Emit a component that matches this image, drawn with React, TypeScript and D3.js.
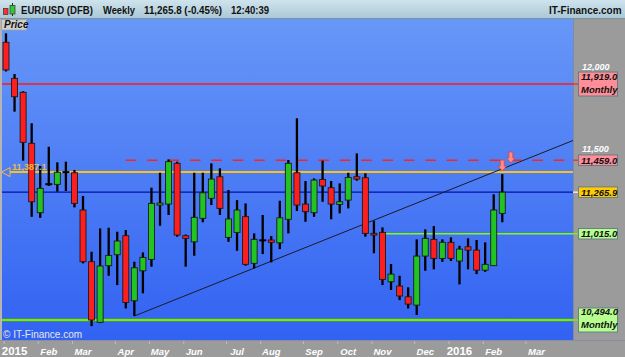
import React from "react";
import * as d3 from "d3";

const WEEKS = [
  "2014-12-29","2015-01-05","2015-01-12","2015-01-19","2015-01-26","2015-02-02","2015-02-09","2015-02-16","2015-02-23",
  "2015-03-02","2015-03-09","2015-03-16","2015-03-23","2015-03-30","2015-04-06","2015-04-13","2015-04-20","2015-04-27",
  "2015-05-04","2015-05-11","2015-05-18","2015-05-25","2015-06-01","2015-06-08","2015-06-15","2015-06-22","2015-06-29",
  "2015-07-06","2015-07-13","2015-07-20","2015-07-27","2015-08-03","2015-08-10","2015-08-17","2015-08-24","2015-08-31",
  "2015-09-07","2015-09-14","2015-09-21","2015-09-28","2015-10-05","2015-10-12","2015-10-19","2015-10-26","2015-11-02",
  "2015-11-09","2015-11-16","2015-11-23","2015-11-30","2015-12-07","2015-12-14","2015-12-21","2015-12-28","2016-01-04",
  "2016-01-11","2016-01-18","2016-01-25","2016-02-01","2016-02-08",
];
const OPEN = [12171,11953,11869,11561,11142,11314,11313,11387,11383,11158,10846,10480,10822,10888,11003,10610,10791,10860,11188,11194,11440,11003,10966,11108,11229,11359,10993,11023,11118,10836,10975,10977,10960,11102,11383,11194,11142,11343,11293,11192,11218,11359,11353,11017,11023,10725,10699,10634,10584,10880,10981,10866,10963,10850,10936,10916,10795,10822,11138];
const HIGH = [12225,11979,11875,11682,11424,11540,11446,11450,11400,11243,10906,11047,11051,11027,11037,10846,10902,11293,11383,11464,11450,11010,11383,11383,11440,11410,11279,11218,11198,11017,11128,11001,11214,11460,11712,11333,11349,11456,11333,11319,11383,11500,11380,11093,11053,10832,10761,10691,10981,11041,11061,10981,10993,10942,10987,10977,10963,11253,11375];
const LOW = [11995,11752,11456,11117,11111,11303,11269,11273,11174,10836,10457,10475,10761,10705,10564,10518,10655,10816,11063,11128,10997,10816,10882,11084,11188,11128,10966,10912,10822,10806,10892,10842,10922,11017,11152,11087,11117,11208,11102,11138,11168,11335,10997,10897,10705,10675,10614,10564,10524,10791,10800,10845,10850,10709,10800,10771,10785,10820,11084];
const CLOSE = [12004,11842,11567,11208,11289,11314,11386,11387,11198,10846,10494,10820,10884,10971,10600,10809,10872,11198,11200,11450,11007,10987,11114,11262,11345,11168,11104,11158,10830,10981,10975,10963,11111,11440,11188,11148,11339,11303,11194,11208,11355,11345,11017,11007,10739,10771,10639,10590,10880,10987,10866,10963,10866,10922,10916,10795,10830,11158,11265.9];

// price axis labels that remain visible (others are hidden behind value boxes)
const PRICE_TICKS = [11500, 12000];
const MONTH_TICKS = [
  ["2015-01-05","2015"],["2015-02-02","Feb"],["2015-03-02","Mar"],["2015-04-06","Apr"],["2015-05-04","May"],
  ["2015-06-01","Jun"],["2015-07-06","Jul"],["2015-08-03","Aug"],["2015-09-07","Sep"],["2015-10-05","Oct"],
  ["2015-11-02","Nov"],["2015-12-07","Dec"],["2016-01-04","2016"],["2016-02-01","Feb"],["2016-03-07","Mar"],
];

const MONTHLY_HIGH = 11919.0;
const MONTHLY_LOW = 10494.0;
const RESIST_LEVEL = 11459.0;
const RESIST_START = "2015-04-06";
const SUPPORT_LEVEL = 11015.0;
const SUPPORT_START = "2015-11-02";
const PREV_LEVEL = 11387.1;
const LAST_PRICE = 11265.9;
const TREND_POINTS = [["2015-04-13", 10518], ["2016-02-08", 11407]];
const ALERTS = [["2016-02-08", 11393], ["2016-02-15", 11442]];

const HEADER = [
  { text: "EUR/USD (DFB)", x: 21, w: 72 },
  { text: "Weekly", x: 103, w: 32 },
  { text: "11,265.8 (-0.45%)", x: 144, w: 78 },
  { text: "12:40:39", x: 231, w: 38 },
];

const parse = d3.utcParse("%Y-%m-%d");
const fmt = d3.format(",.1f");
const fmt0 = d3.format(",");

const W = 625, H = 357;
const PL = 2, PR = 573, PT = 19, PB = 340;
const FONT = "'Liberation Sans', Arial, Helvetica, sans-serif";

export default function App() {
  const x = d3.scaleUtc().domain([parse("2014-12-29")!, parse("2016-03-07")!]).range([6, 536.5]);
  const y = d3.scaleLinear().domain([10500, 12000]).range([319.0, 70.6]);

  const t0 = TREND_POINTS[0], t1 = TREND_POINTS[1];
  const tx0 = x(parse(t0[0] as string)!), ty0 = y(t0[1] as number);
  const tx1 = x(parse(t1[0] as string)!), ty1 = y(t1[1] as number);
  const slope = (ty1 - ty0) / (tx1 - tx0);
  const tyEnd = ty0 + slope * (PR - tx0);

  const boxes = [
    { v: MONTHLY_HIGH, fill: "#ff8e98", tick: "#ff2020", two: true },
    { v: RESIST_LEVEL, fill: "#ff8e98", tick: "#ff2020", two: false },
    { v: LAST_PRICE, fill: "#ffcc00", tick: "#ffffff", two: false },
    { v: SUPPORT_LEVEL, fill: "#b6ff8e", tick: "#7cfc00", two: false },
    { v: MONTHLY_LOW, fill: "#b6ff8e", tick: "#7cfc00", two: true },
  ];

  return (
    <svg width={W} height={H} style={{ position: "fixed", left: 0, top: 0, display: "block" }} fontFamily={FONT}>
      <defs>
        <linearGradient id="plotBg" x1="0" y1="0" x2="0" y2="1">
          <stop offset="0" stopColor="#6797f7" />
          <stop offset="1" stopColor="#3262f2" />
        </linearGradient>
        <linearGradient id="hdrBg" x1="0" y1="0" x2="0" y2="1">
          <stop offset="0" stopColor="#cfe3ec" />
          <stop offset="1" stopColor="#a9c7d5" />
        </linearGradient>
        <clipPath id="plotClip">
          <rect x={PL} y={PT} width={PR - PL} height={PB - PT} />
        </clipPath>
      </defs>

      <rect x={0} y={0} width={W} height={H} fill="#9b9b9b" />
      <rect x={0} y={0} width={W} height={19} fill="url(#hdrBg)" />
      <line x1={0} x2={W} y1={18.5} y2={18.5} stroke="#7d939e" />
      <rect x={PL} y={PT} width={PR - PL} height={PB - PT} fill="url(#plotBg)" />
      <line x1={1} x2={1} y1={PT} y2={PB} stroke="#b5b5b5" strokeWidth={2} />
      <line x1={PR + 0.5} x2={PR + 0.5} y1={PT} y2={PB} stroke="#7f8aa8" />
      <line x1={0} x2={W} y1={PB + 0.5} y2={PB + 0.5} stroke="#8a8fa0" />

      <g clipPath="url(#plotClip)">
        <line x1={PL} x2={PR} y1={y(MONTHLY_HIGH)} y2={y(MONTHLY_HIGH)} stroke="#ff1a1a" strokeWidth={1.5} />
        <line x1={x(parse(RESIST_START)!)} x2={PR} y1={y(RESIST_LEVEL)} y2={y(RESIST_LEVEL)} stroke="#ff2020" strokeWidth={1.5} strokeDasharray="10.5,10.9" />
        <line x1={10} x2={PR} y1={y(PREV_LEVEL)} y2={y(PREV_LEVEL)} stroke="#ffc20e" strokeWidth={2} />
        <line x1={PL} x2={PR} y1={y(LAST_PRICE)} y2={y(LAST_PRICE)} stroke="#0010b0" strokeWidth={1.3} />
        <line x1={x(parse(SUPPORT_START)!)} x2={PR} y1={y(SUPPORT_LEVEL)} y2={y(SUPPORT_LEVEL)} stroke="#80ff00" strokeWidth={1.5} />
        <line x1={PL} x2={PR} y1={y(MONTHLY_LOW)} y2={y(MONTHLY_LOW)} stroke="#4caa10" strokeWidth={3} />
        <line x1={PL} x2={PR} y1={y(MONTHLY_LOW)} y2={y(MONTHLY_LOW)} stroke="#88ff10" strokeWidth={1.5} />
        <line x1={tx0} y1={ty0} x2={PR} y2={tyEnd} stroke="#1a1a2a" strokeWidth={1} />

        {WEEKS.map((w, i) => {
          const cx = x(parse(w)!);
          const o = OPEN[i], c = CLOSE[i];
          const yo = y(o), yc = y(c);
          const top = Math.min(yo, yc);
          const h = Math.abs(yo - yc);
          return (
            <g key={w}>
              <line x1={cx} x2={cx} y1={y(HIGH[i])} y2={y(LOW[i])} stroke="#000" strokeWidth={2.3} />
              {h < 0.8 ? (
                <line x1={cx - 3.5} x2={cx + 3.5} y1={yo} y2={yo} stroke="#000" strokeWidth={2} />
              ) : (
                <rect x={cx - 3} y={top} width={6} height={Math.max(h, 1.5)}
                  fill={c >= o ? "#22c422" : "#ff1e1e"} stroke="#1a1a1a" strokeWidth={0.9} />
              )}
            </g>
          );
        })}

        {ALERTS.map(([d, v]) => {
          const ax = x(parse(d as string)!);
          const ay = y(v as number);
          const p = `M${ax - 2},${ay - 11} L${ax + 2},${ay - 11} L${ax + 2},${ay - 5} L${ax + 4.2},${ay - 5} L${ax},${ay} L${ax - 4.2},${ay - 5} L${ax - 2},${ay - 5} Z`;
          return <path key={d as string} d={p} fill="#ff8a8a" stroke="#d04848" strokeWidth={0.8} />;
        })}
      </g>

      {/* previous level marker */}
      <path d={`M1.5,${y(PREV_LEVEL)} L10,${y(PREV_LEVEL) - 4.5} L10,${y(PREV_LEVEL) + 4.5} Z`} fill="none" stroke="#f5b942" strokeWidth={1} />
      <text x={12} y={y(PREV_LEVEL) - 2.5} fontSize={9} fontWeight="bold" fill="#f3c53e" opacity={0.9}>{fmt(PREV_LEVEL)}</text>

      {/* Price label */}
      <rect x={1.5} y={19.5} width={25} height={10.5} fill="#cfcfcf" stroke="#a0a0a0" strokeWidth={0.8} />
      <text x={4} y={28} fontSize={10} fontWeight="bold" fontStyle="italic" fill="#111">Price</text>

      <text x={3} y={338} fontSize={10} fill="#e6e6e6">© IT-Finance.com</text>

      {/* right axis tick labels (sitting just above the value boxes) */}
      {PRICE_TICKS.map((t) => (
        <text key={t} x={582} y={y(t) - 1} fontSize={9} fontWeight="bold" fontStyle="italic" fill="#ffffff">{fmt0(t)}</text>
      ))}

      {/* value boxes */}
      {boxes.map((b) => {
        const by = y(b.v);
        const hh = b.two ? 24 : 10.5;
        const top = b.two ? by - 12 : by - 5.25;
        return (
          <g key={b.v}>
            <line x1={PR} x2={578} y1={by} y2={by} stroke={b.tick} strokeWidth={1.2} />
            <rect x={578.5} y={top} width={39} height={hh} fill={b.fill} stroke="#5d7a86" strokeWidth={0.9} />
            <text x={581} y={b.two ? by - 4.5 : by} dy={b.two ? 0 : "0.36em"} fontSize={9.5} fontWeight="bold" fontStyle="italic" fill="#111">{fmt(b.v)}</text>
            {b.two && <text x={581} y={by + 8.5} fontSize={9.5} fontWeight="bold" fontStyle="italic" fill="#111">Monthly</text>}
          </g>
        );
      })}

      {/* x axis */}
      {MONTH_TICKS.map(([d, lab]) => {
        const tx = x(parse(d)!);
        const isYear = /^\d{4}$/.test(lab);
        return (
          <g key={d}>
            <line x1={tx - 10.5} x2={tx - 10.5} y1={341} y2={344} stroke="#bdbdbd" />
            <text x={tx} y={354.5} textAnchor="middle" fontSize={isYear ? 11.5 : 9.5} fontWeight="bold"
              fontStyle={isYear ? "normal" : "italic"} fill="#ffffff">{lab}</text>
          </g>
        );
      })}

      {/* header */}
      <rect x={3.5} y={8.5} width={4.5} height={6} fill="#ff3030" stroke="#333" strokeWidth={0.7} />
      <line x1={12.5} x2={12.5} y1={3} y2={16} stroke="#222" strokeWidth={1} />
      <rect x={10} y={5.5} width={5} height={8.5} fill="#35c835" stroke="#333" strokeWidth={0.7} />
      {HEADER.map((h) => (
        <text key={h.text} x={h.x} y={13.5} fontSize={10.5} fontWeight="bold" fill="#111"
          textLength={h.w} lengthAdjust="spacingAndGlyphs">{h.text}</text>
      ))}
      <text x={549} y={13.5} fontSize={10.5} fontWeight="bold" fill="#111" textLength={72.5} lengthAdjust="spacingAndGlyphs">IT-Finance.com</text>
    </svg>
  );
}
